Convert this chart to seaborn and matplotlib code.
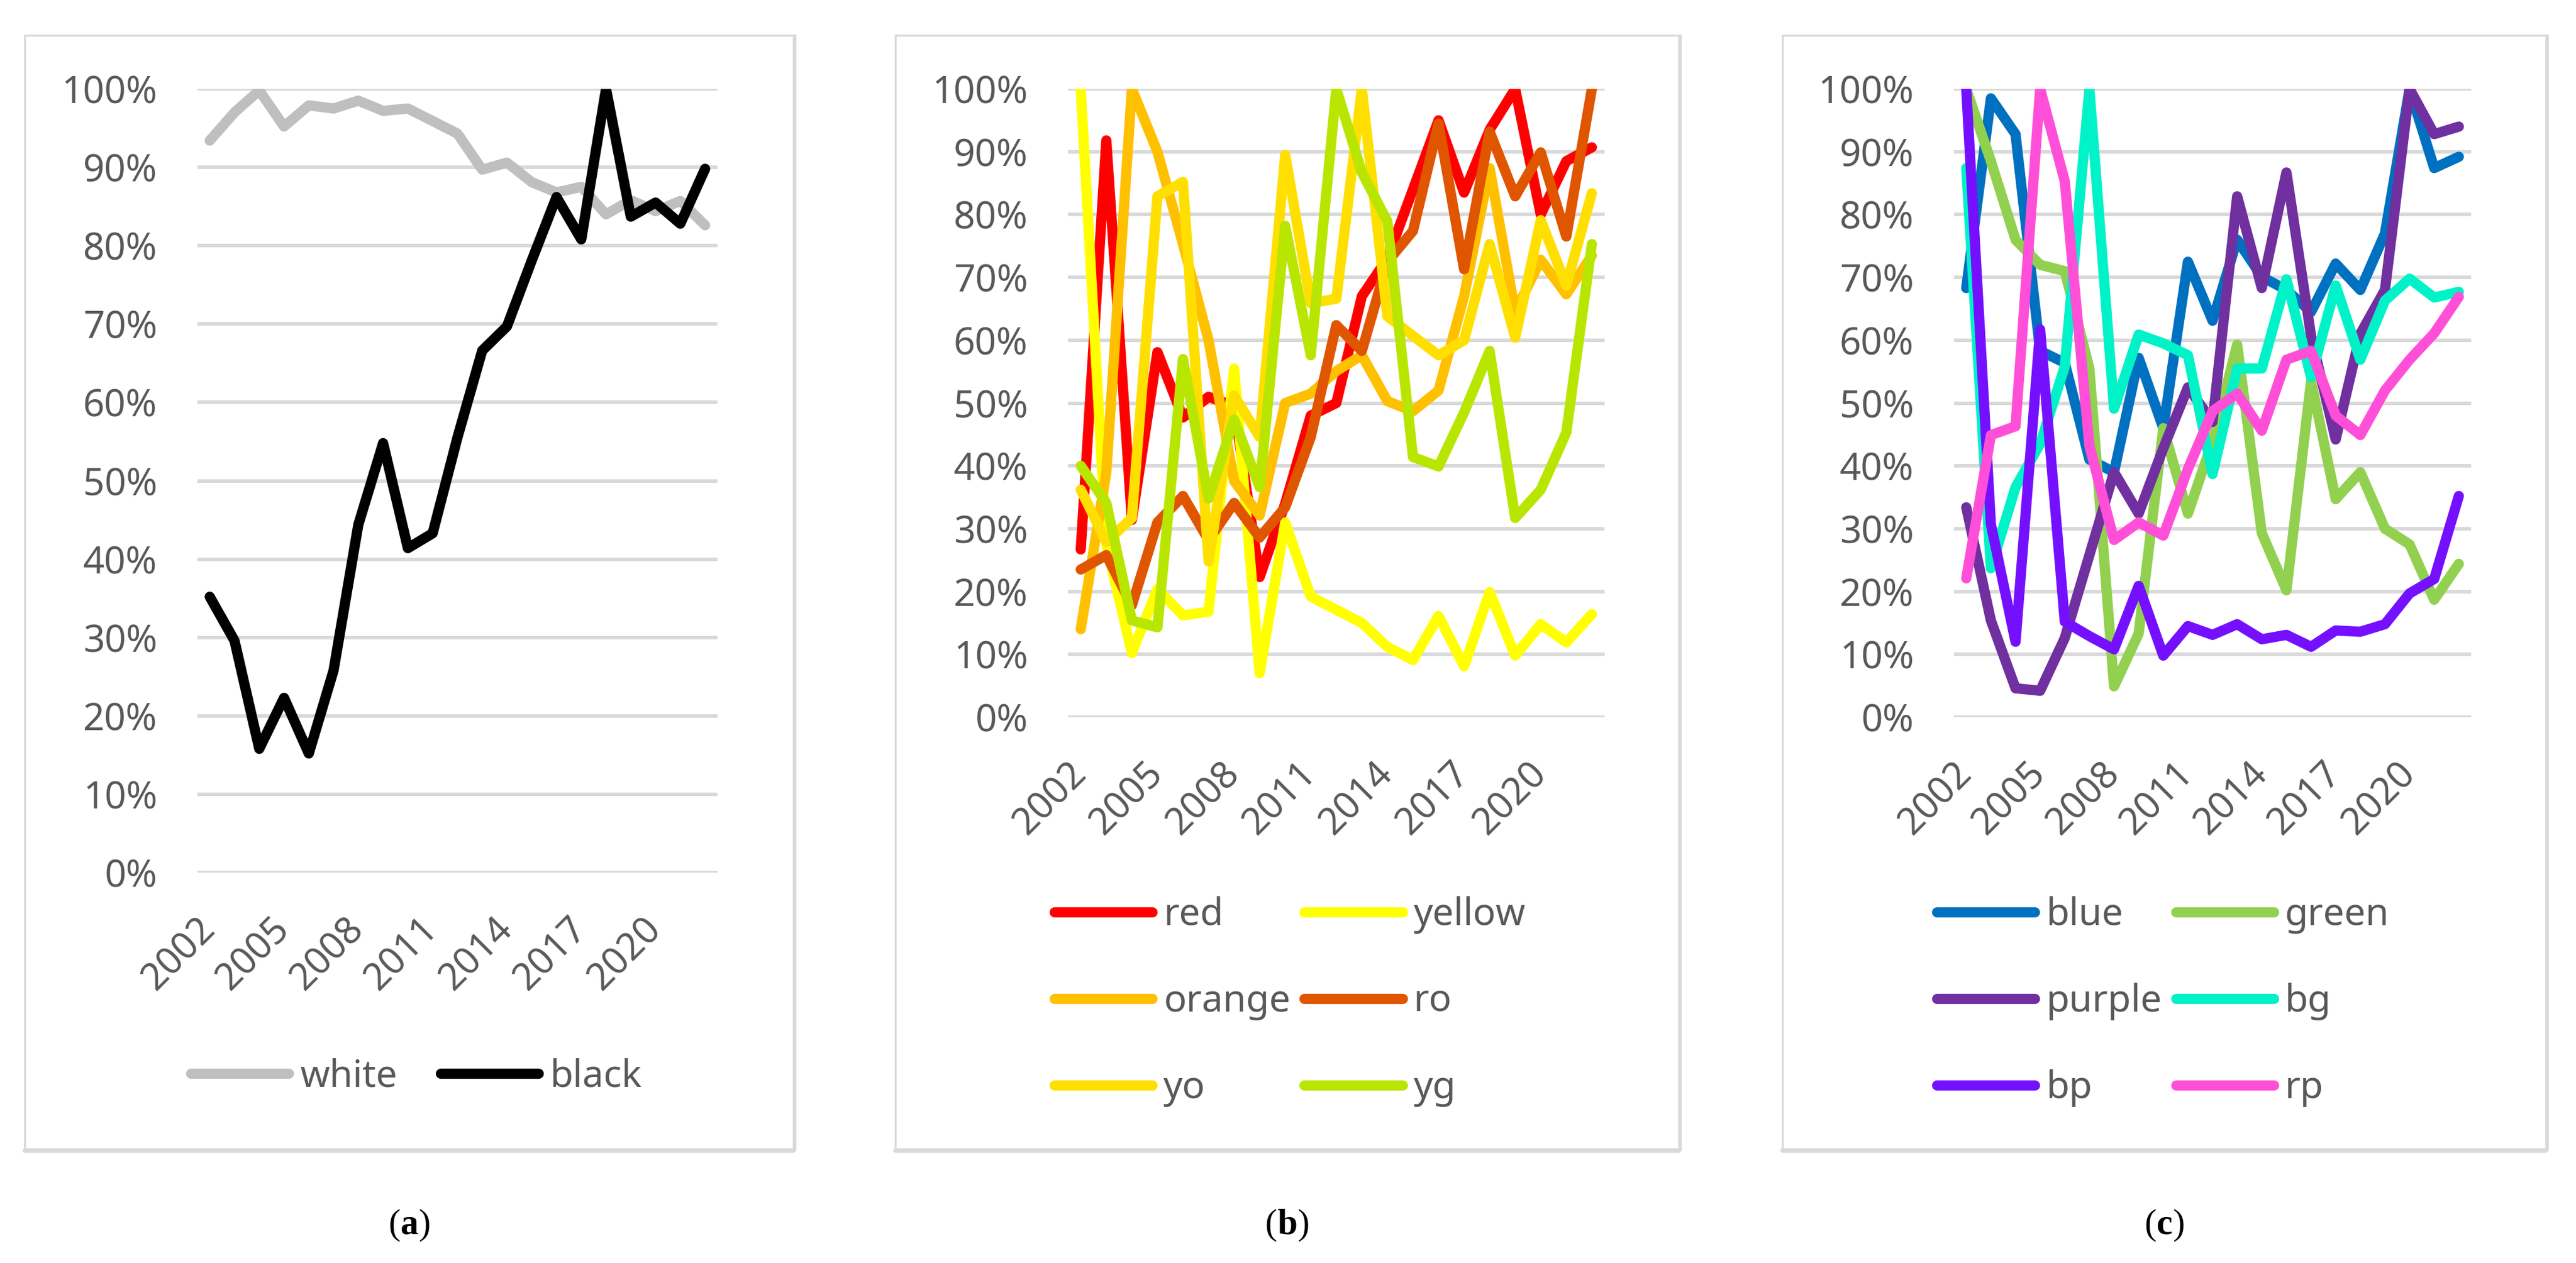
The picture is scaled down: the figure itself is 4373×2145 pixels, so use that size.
import matplotlib
matplotlib.use("Agg")
import matplotlib.pyplot as plt
import seaborn as sns
import pandas as pd
from matplotlib.ticker import PercentFormatter
from matplotlib.patches import Rectangle
from matplotlib.lines import Line2D
from matplotlib.offsetbox import TextArea, HPacker, AnnotationBbox

# ---------------- data ----------------
years = list(range(2002, 2023))
tick_years = [2002, 2005, 2008, 2011, 2014, 2017, 2020]

# panel (a)
white = [93.4, 97.0, 99.8, 95.2, 97.9, 97.5, 98.5, 97.2, 97.5, 95.9, 94.3,
         89.7, 90.6, 88.1, 86.8, 87.5, 84.0, 85.8, 84.4, 85.7, 82.6]
black = [35.2, 29.6, 15.8, 22.3, 15.2, 25.8, 44.4, 54.8, 41.4, 43.3, 55.5,
         66.6, 69.7, 78.1, 86.2, 80.8, 100.0, 83.7, 85.5, 82.8, 89.8]

# panel (b)
red = [26.7, 91.8, 31.4, 58.1, 47.7, 51.0, 49.5, 22.3, 34.0, 48.0, 50.0,
       67.0, 73.0, 84.0, 95.0, 83.5, 93.5, 100.0, 80.0, 88.5, 90.7]
yellow = [100.0, 27.5, 10.2, 20.4, 16.2, 16.8, 55.5, 7.0, 31.0, 19.2, 17.1,
          15.0, 11.2, 9.1, 16.1, 8.1, 19.9, 9.8, 14.8, 11.9, 16.4]
orange = [14.0, 39.0, 100.0, 90.0, 75.3, 60.0, 37.6, 32.1, 50.0, 51.5, 55.1,
          57.6, 50.3, 48.7, 52.0, 67.0, 87.4, 64.5, 72.8, 67.3, 73.5]
ro = [23.5, 25.8, 17.8, 31.0, 35.2, 28.2, 34.1, 28.6, 33.4, 44.6, 62.4,
      58.3, 72.5, 77.4, 94.5, 71.3, 93.2, 82.9, 89.9, 76.5, 100.0]
yo = [36.2, 27.9, 31.7, 82.9, 85.2, 24.8, 51.2, 44.6, 89.5, 65.9, 66.6,
      100.0, 63.8, 60.7, 57.6, 60.0, 75.3, 60.4, 79.1, 68.7, 83.4]
yg = [40.0, 34.1, 15.4, 14.3, 57.0, 34.8, 47.4, 36.6, 78.2, 57.6, 100.0,
      86.7, 78.9, 41.4, 39.9, 48.5, 58.3, 31.7, 36.2, 45.3, 75.3]

# panel (c)
blue = [68.3, 98.5, 92.8, 58.3, 56.4, 41.0, 39.0, 57.2, 46.0, 72.5, 63.1,
        76.0, 70.1, 68.0, 64.5, 72.2, 68.0, 77.0, 100.0, 87.4, 89.2]
green = [100.0, 88.5, 76.0, 72.0, 71.0, 55.5, 4.9, 13.3, 46.0, 32.4, 43.9,
         59.3, 29.3, 20.2, 53.5, 34.7, 39.0, 30.0, 27.5, 18.7, 24.4]
purple = [33.4, 15.4, 4.6, 4.2, 12.6, 25.8, 39.0, 32.4, 42.8, 52.5, 47.0,
          82.9, 68.3, 86.7, 60.7, 44.2, 61.0, 68.0, 100.0, 92.8, 94.0]
bg = [87.4, 23.7, 36.6, 43.5, 55.8, 100.0, 49.1, 60.9, 59.5, 57.6, 38.7,
      55.5, 55.5, 69.7, 54.1, 68.7, 56.9, 66.3, 69.8, 66.8, 67.7]
bp = [100.0, 30.7, 12.0, 61.7, 15.2, 12.9, 10.8, 20.9, 9.8, 14.5, 13.1,
      14.8, 12.4, 13.1, 11.2, 13.8, 13.6, 14.8, 19.7, 22.0, 35.2]
rp = [22.1, 44.9, 46.3, 100.0, 85.3, 43.2, 28.2, 31.0, 28.9, 39.5, 48.7,
      51.5, 45.6, 56.9, 58.3, 48.0, 44.9, 52.0, 56.9, 61.1, 66.9]

series_a = {"white": white, "black": black}
series_b = {"red": red, "yellow": yellow, "orange": orange, "ro": ro, "yo": yo, "yg": yg}
series_c = {"blue": blue, "green": green, "purple": purple, "bg": bg, "bp": bp, "rp": rp}

colors_a = {"white": "#BFBFBF", "black": "#000000"}
colors_b = {"red": "#FF0000", "yellow": "#FFFF00", "orange": "#FFC000",
            "ro": "#E05500", "yo": "#FFDF00", "yg": "#B9E600"}
colors_c = {"blue": "#0070C0", "green": "#92D050", "purple": "#7030A0",
            "bg": "#00F2C8", "bp": "#7510FF", "rp": "#FF4FD8"}

# ---------------- style ----------------
sns.set_theme(style="white")
plt.rcParams["font.family"] = ["Noto Sans", "DejaVu Sans"]

W, H = 4373, 2145
DPI = 100
fig = plt.figure(figsize=(W / DPI, H / DPI), dpi=DPI)
fig.patch.set_facecolor("white")

TXT = "#595959"
GRID = "#D9D9D9"
FS = 46
LW = 12.5


def add_axes_px(x0, x1, y0, y1):
    return fig.add_axes([x0 / W, 1 - y1 / H, (x1 - x0) / W, (y1 - y0) / H])


def draw_panel(ax, series, colors, legend_center, ncol, legend_order, colsp):
    df = pd.DataFrame(
        [(y, name, v) for name, vals in series.items() for y, v in zip(years, vals)],
        columns=["year", "series", "value"],
    )
    order = list(series.keys())
    sns.lineplot(data=df, x="year", y="value", hue="series", hue_order=order,
                 palette=colors, lw=LW, sort=False, legend=False, ax=ax,
                 solid_capstyle="round", solid_joinstyle="round")
    ax.set_xlim(2001.5, 2022.5)
    ax.set_ylim(0, 100)
    ax.set_yticks(range(0, 101, 10))
    ax.yaxis.set_major_formatter(PercentFormatter(100, decimals=0))
    ax.set_xticks(tick_years)
    ax.set_xticklabels([str(t) for t in tick_years], rotation=45, ha="right",
                       va="center", rotation_mode="anchor")
    ax.tick_params(axis="y", length=0, pad=49, labelsize=FS, labelcolor=TXT)
    ax.tick_params(axis="x", length=0, pad=62, labelsize=FS, labelcolor=TXT)
    ax.set_xlabel("")
    ax.set_ylabel("")
    for s in ax.spines.values():
        s.set_visible(False)
    ax.yaxis.grid(True, color=GRID, lw=4.3)
    ax.xaxis.grid(False)
    ax.set_axisbelow(True)
    ax.set_facecolor("none")

    handles = {name: Line2D([0], [0], color=colors[name], lw=LW,
                            solid_capstyle="round") for name in order}
    names = [order[i] for i in legend_order]
    ax.legend([handles[n] for n in names], names, loc="center",
              bbox_to_anchor=(legend_center[0] / W, 1 - legend_center[1] / H),
              bbox_transform=fig.transFigure, ncol=ncol, frameon=False,
              fontsize=FS, labelcolor=TXT, handlelength=2.6,
              handletextpad=0.3, columnspacing=colsp, labelspacing=1.3,
              borderpad=0)


# panel boxes
boxes = [(42, 1347), (1520, 2850), (3026, 4322)]
BOX_TOP, BOX_BOT = 60, 1952
for x0, x1 in boxes:
    fig.patches.append(Rectangle((x0 / W, 1 - BOX_BOT / H), (x1 - x0) / W,
                                 (BOX_BOT - BOX_TOP) / H, transform=fig.transFigure,
                                 fill=False, edgecolor=GRID, lw=2.4, zorder=0))
    fig.add_artist(Line2D([x0 / W, x1 / W], [1 - (BOX_BOT + 2) / H] * 2,
                          transform=fig.transFigure, color=GRID, lw=5.5))
    fig.add_artist(Line2D([(x1 + 2) / W] * 2, [1 - BOX_BOT / H, 1 - BOX_TOP / H],
                          transform=fig.transFigure, color=GRID, lw=3.5))

ax_a = add_axes_px(335, 1218, 151, 1482)
draw_panel(ax_a, series_a, colors_a, (707, 1828), 2, [0, 1], 1.15)

ax_b = add_axes_px(1813, 2724, 151, 1218)
draw_panel(ax_b, series_b, colors_b, (2190, 1701), 2, [0, 2, 4, 1, 3, 5], 0.37)

ax_c = add_axes_px(3317, 4195, 151, 1218)
draw_panel(ax_c, series_c, colors_c, (3672, 1701), 2, [0, 2, 4, 1, 3, 5], 0.37)

# sub-figure labels
for letter, cx in [("a", 695), ("b", 2185), ("c", 3674)]:
    tp = dict(family="Liberation Serif", size=44, color="black")
    tpb = dict(family="Liberation Serif", size=44, color="black", weight="bold")
    pack = HPacker(children=[TextArea("(", textprops=tp),
                             TextArea(letter, textprops=tpb),
                             TextArea(")", textprops=tp)],
                   align="baseline", pad=0, sep=0)
    ab = AnnotationBbox(pack, (cx / W, 1 - 2081 / H), xycoords="figure fraction",
                        frameon=False, box_alignment=(0.5, 0.5))
    fig.add_artist(ab)

fig.savefig("out.png", dpi=DPI, facecolor="white")
